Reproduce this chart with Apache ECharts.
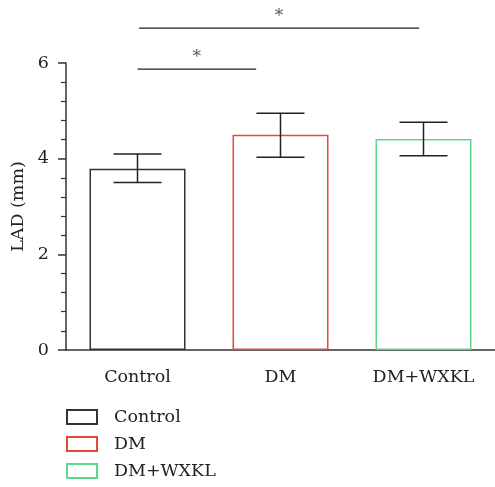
<!DOCTYPE html>
<html>
<head>
<meta charset="utf-8">
<script src="https://cdn.jsdelivr.net/npm/echarts@6/dist/echarts.min.js"></script>
<style>
  html, body { margin: 0; padding: 0; background: #fff; }
  #chart { width: 495px; height: 487px; }
</style>
</head>
<body>
<div id="chart"></div>
<script>
// data
var categories = ['Control', 'DM', 'DM+WXKL'];
var means = [3.79, 4.50, 4.41];
var errLow = [3.50, 4.03, 4.06];
var errHigh = [4.10, 4.95, 4.76];
var colors = ['#333333', '#e8473a', '#5fd68a'];
// significance brackets: [from x, to x, y, label]
var brackets = [
  [0, 0.83, 5.87, '*'],
  [0.01, 1.97, 6.73, '*']
];

var FONT = 'DejaVu Serif';
var FS = 17.5;

var chartDom = document.getElementById('chart');
var myChart = echarts.init(chartDom);

var barSeries = categories.map(function (name, i) {
  var d = categories.map(function (c, j) { return j === i ? means[i] : '-'; });
  return {
    name: name,
    type: 'bar',
    data: d,
    barWidth: 96,
    barGap: '-100%',
    itemStyle: { color: '#ffffff', borderColor: colors[i], borderWidth: 1.5 },
    emphasis: { disabled: true }
  };
});

var errData = categories.map(function (c, i) { return [i, errLow[i], errHigh[i]]; });

var option = {
  animation: false,
  grid: { left: 66, top: 63, width: 432, height: 287 },
  legend: {
    orient: 'vertical',
    left: 66,
    top: 408,
    padding: 0,
    itemWidth: 30,
    itemHeight: 14,
    itemGap: 9,
    icon: 'rect',
    data: categories,
    textStyle: { fontFamily: FONT, fontSize: FS, color: '#222', padding: [0, 0, 0, 12] }
  },
  xAxis: [{
    type: 'category',
    data: categories,
    axisLine: { lineStyle: { color: '#333', width: 1.5 } },
    axisTick: { alignWithLabel: true, length: 7, lineStyle: { color: '#333', width: 1.5 } },
    axisLabel: { fontFamily: FONT, fontSize: FS, color: '#222', margin: 18 }
  }, {
    type: 'value',
    min: -0.5,
    max: 2.5,
    show: false
  }],
  yAxis: {
    type: 'value',
    min: 0,
    max: 6,
    interval: 2,
    name: 'LAD (mm)',
    nameLocation: 'middle',
    nameGap: 37,
    nameTextStyle: { fontFamily: FONT, fontSize: FS, color: '#222' },
    splitLine: { show: false },
    axisLine: { show: true, onZero: false, lineStyle: { color: '#333', width: 1.5 } },
    axisTick: { show: true, length: 8, lineStyle: { color: '#333', width: 1.5 } },
    minorTick: { show: true, splitNumber: 5, length: 5, lineStyle: { color: '#333', width: 1.2 } },
    axisLabel: { fontFamily: FONT, fontSize: FS, color: '#222', margin: 17 }
  },
  series: barSeries.concat([
    {
      type: 'custom',
      name: 'err',
      data: errData,
      z: 5,
      renderItem: function (params, api) {
        var x = api.value(0);
        var lo = api.coord([x, api.value(1)]);
        var hi = api.coord([x, api.value(2)]);
        var hw = 24;
        var st = { stroke: '#222', lineWidth: 1.5 };
        return {
          type: 'group',
          children: [
            { type: 'line', shape: { x1: hi[0], y1: hi[1], x2: lo[0], y2: lo[1] }, style: st },
            { type: 'line', shape: { x1: hi[0] - hw, y1: hi[1], x2: hi[0] + hw, y2: hi[1] }, style: st },
            { type: 'line', shape: { x1: lo[0] - hw, y1: lo[1], x2: lo[0] + hw, y2: lo[1] }, style: st }
          ]
        };
      }
    },
    {
      type: 'custom',
      name: 'sig',
      xAxisIndex: 1,
      data: brackets,
      clip: false,
      renderItem: function (params, api) {
        var a = api.coord([api.value(0), api.value(2)]);
        var b = api.coord([api.value(1), api.value(2)]);
        return {
          type: 'group',
          children: [
            { type: 'line', shape: { x1: a[0], y1: a[1], x2: b[0], y2: b[1] }, style: { stroke: '#222', lineWidth: 1.3 } },
            { type: 'text', style: { x: (a[0] + b[0]) / 2, y: a[1] - 3, text: brackets[params.dataIndex][3], fontFamily: FONT, fontSize: 17, fill: '#555', align: 'center', verticalAlign: 'bottom' } }
          ]
        };
      }
    }
  ])
};

option && myChart.setOption(option);
</script>
</body>
</html>
